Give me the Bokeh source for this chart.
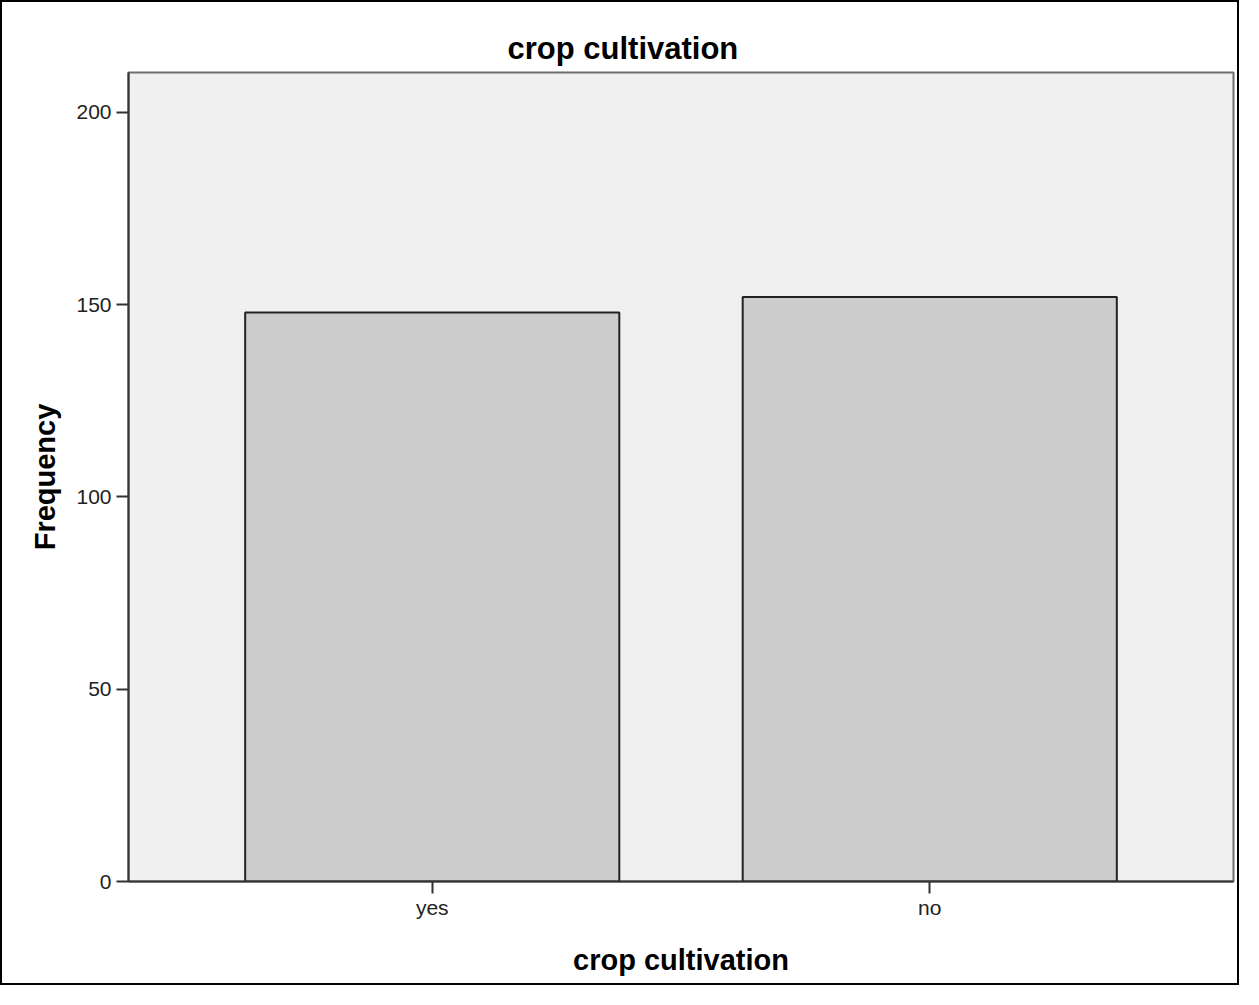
from bokeh.plotting import figure
from bokeh.models import FactorRange, Range1d, FixedTicker, InlineStyleSheet
from bokeh.embed import file_html
from bokeh.resources import INLINE

categories = ["yes", "no"]
frequencies = [148, 152]
y_ticks = [0, 50, 100, 150, 200]

FONT = "Liberation Sans"

p = figure(
    x_range=FactorRange(factors=categories, range_padding=0.1105, range_padding_units="absolute"),
    y_range=Range1d(0, 210.4),
    width=1239, height=985,
    output_backend="svg", toolbar_location=None,
    min_border_left=126, min_border_right=8, min_border_top=70, min_border_bottom=106,
)
p.stylesheets = [InlineStyleSheet(css=":host { border: 2px solid #000; }")]

p.background_fill_color = "#f0f0f0"
p.border_fill_color = "white"
p.outline_line_color = "#6e6e6e"
p.outline_line_width = 2
p.xgrid.visible = False
p.ygrid.visible = False

p.vbar(x=categories, top=frequencies, width=0.752, fill_color="#cccccc",
       line_color="#222222", line_width=2)

p.title.text = "crop cultivation"
p.title.text_font = FONT
p.title.text_font_size = "31px"
p.title.text_font_style = "bold"
p.title.text_color = "black"
p.title.align = "left"
p.title.offset = 379
p.title.standoff = 14

for ax in (p.xaxis[0], p.yaxis[0]):
    ax.axis_line_color = "#333333"
    ax.axis_line_width = 2
    ax.major_tick_line_color = "#333333"
    ax.major_tick_line_width = 2
    ax.major_tick_out = 12
    ax.major_tick_in = 0
    ax.minor_tick_line_color = None
    ax.major_label_text_font = FONT
    ax.major_label_text_font_size = "21px"
    ax.major_label_text_color = "#222222"
    ax.axis_label_text_font = FONT
    ax.axis_label_text_font_style = "bold"
    ax.axis_label_text_font_size = "29px"
    ax.axis_label_text_color = "black"

p.yaxis.ticker = FixedTicker(ticks=y_ticks)
p.yaxis.axis_label = "Frequency"
p.yaxis.major_label_standoff = 5
p.yaxis.axis_label_standoff = 12

p.xaxis.axis_label = "crop cultivation"
p.xaxis.major_label_standoff = 2
p.xaxis.axis_label_standoff = 22

open("out.html", "w").write(file_html(p, INLINE))
